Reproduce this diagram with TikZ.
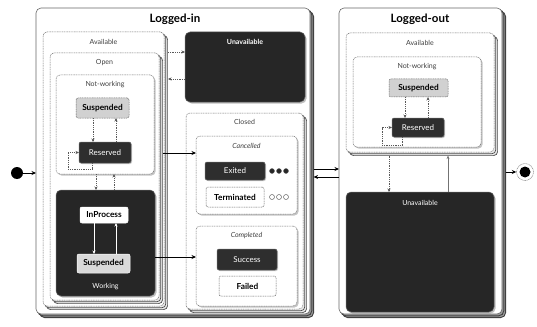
\documentclass[tikz,border=0pt]{standalone}
\usepackage{fontspec}
\setmainfont{Lato}
\usetikzlibrary{shadows,arrows.meta}
\begin{document}
\begin{tikzpicture}[x=1pt,y=-1pt,
  base/.style={anchor=north west, inner sep=0pt, outer sep=0pt},
  box/.style={base, draw=black!55, dash pattern=on 1pt off 0.7pt, line width=0.5pt, rounded corners=4pt, fill=white},
  stacked/.style={double copy shadow={shadow xshift=1.8pt, shadow yshift=-1.8pt, draw=black!70, fill=black!8, solid, line width=0.7pt}},
  outer/.style={base, draw=black!60, line width=0.6pt, rounded corners=5pt, fill=white,
    double copy shadow={shadow xshift=1.8pt, shadow yshift=-1.8pt, draw=black!75, fill=black!40, line width=0.9pt}},
  darkbox/.style={base, draw=black!60, fill=black!85, rounded corners=5pt, line width=0.5pt,
    drop shadow={opacity=0.5, shadow xshift=1.5pt, shadow yshift=-1.5pt}},
  statedark/.style={base, draw=black!60, fill=black!82, rounded corners=2pt, line width=0.5pt,
    text=white, font=\fontsize{8}{9}\selectfont,
    drop shadow={opacity=0.4, shadow xshift=1pt, shadow yshift=-1pt}},
  statelight/.style={base, draw=black!60, dash pattern=on 1pt off 0.7pt, fill=black!18, rounded corners=2pt, line width=0.5pt,
    font=\bfseries\fontsize{8.3}{9}\selectfont},
  statewhite/.style={base, draw=black!60, dash pattern=on 1pt off 0.7pt, fill=white, rounded corners=2pt, line width=0.5pt,
    font=\bfseries\fontsize{8.3}{9}\selectfont},
  title/.style={font=\bfseries\fontsize{11.5}{13}\selectfont},
  lbl/.style={font=\fontsize{7}{8}\selectfont, text=black!75},
  lblw/.style={font=\fontsize{7}{8}\selectfont, text=white},
  dasharrow/.style={draw=black!65, dash pattern=on 1pt off 0.8pt, line width=0.5pt, -{Stealth[length=3.5pt,width=3pt]}},
  whitearrow/.style={draw=white, line width=0.6pt, -{Stealth[length=3.5pt,width=3pt]}},
  solidarrow/.style={draw=black, line width=0.9pt, -{Stealth[length=4.5pt,width=4pt]}},
  grayarrow/.style={draw=black!55, line width=0.6pt, -{Stealth[length=3.5pt,width=3pt]}},
]
\useasboundingbox (0,0) rectangle (537,326);

% ---------- Logged-in ----------
\node[outer, minimum width=274pt, minimum height=306pt] (li) at (36,8) {};
\node[title] (tli) at (175,19) {Logged-in};

\node[box, stacked, minimum width=121pt, minimum height=274pt] (availA) at (43,32) {};
\node[lbl] (lavailA) at ([yshift=-10pt]availA.north) {Available};
\node[box, stacked, minimum width=109pt, minimum height=247pt] (openA) at (50,53) {};
\node[lbl] (lopenA) at ([yshift=-10pt]openA.north) {Open};
\node[box, minimum width=98pt, minimum height=99pt,
  drop shadow={opacity=0.45, shadow xshift=1.5pt, shadow yshift=-1.5pt}] (nwA) at (56,75) {};
\node[lbl] (lnwA) at ([yshift=-10pt]nwA.north) {Not-working};

\node[statelight, minimum width=53pt, minimum height=20pt] (suspA) at (76,98) {Suspended};
\node[statedark, minimum width=52pt, minimum height=21pt] (resA) at (79,142) {Reserved};

\node[darkbox, minimum width=99pt, minimum height=106pt] (work) at (56,190) {};
\node[lblw] (lwork) at ([yshift=9pt]work.south) {Working};
\node[statewhite, solid, draw=white, minimum width=48pt, minimum height=16pt] (inproc) at (80,207) {InProcess};
\node[statelight, solid, draw=white, fill=black!15, minimum width=53pt, minimum height=19pt] (suspW) at (77,254) {Suspended};

\node[darkbox, minimum width=120pt, minimum height=70pt] (unavA) at (185,32) {};
\node[lblw, font=\bfseries\fontsize{7}{8}\selectfont] (lunavA) at ([yshift=-10pt]unavA.north) {Unavailable};

\node[box, stacked, minimum width=117pt, minimum height=196pt] (closed) at (186,113) {};
\node[lbl] (lclosed) at ([yshift=-9pt]closed.north) {Closed};
\node[box, minimum width=101pt, minimum height=78pt,
  drop shadow={opacity=0.45, shadow xshift=1.5pt, shadow yshift=-1.5pt}] (canc) at (196,136) {};
\node[lbl, font=\itshape\fontsize{7}{8}\selectfont] (lcanc) at ([yshift=-10pt]canc.north) {Cancelled};
\node[statedark, minimum width=60pt, minimum height=18pt] (exited) at (205,162) {Exited};
\node[statewhite, minimum width=58pt, minimum height=20pt] (term) at (206,187) {Terminated};
\foreach \i/\xx in {1/272,2/279,3/286} {
  \node[circle, fill=black!85, draw=black!60, minimum size=5pt, inner sep=0pt] (fd\i) at (\xx,171) {};
  \node[circle, fill=white, draw=black!60, line width=0.5pt, minimum size=5pt, inner sep=0pt] (od\i) at (\xx,197) {};
}

\node[box, minimum width=101pt, minimum height=80pt,
  drop shadow={opacity=0.45, shadow xshift=1.5pt, shadow yshift=-1.5pt}] (comp) at (196,226) {};
\node[lbl, font=\itshape\fontsize{7}{8}\selectfont] (lcomp) at ([yshift=-10pt]comp.north) {Completed};
\node[statedark, minimum width=60pt, minimum height=21pt] (succ) at (217,249) {Success};
\node[statewhite, minimum width=57pt, minimum height=20pt] (fail) at (219,276) {Failed};

% ---------- Logged-out ----------
\node[outer, minimum width=163pt, minimum height=306pt] (lo) at (339,8) {};
\node[title] (tlo) at (420,19) {Logged-out};
\node[box, stacked, minimum width=148pt, minimum height=119pt] (availB) at (346,33) {};
\node[lbl] (lavailB) at ([yshift=-10pt]availB.north) {Available};
\node[box, minimum width=128pt, minimum height=90pt,
  drop shadow={opacity=0.45, shadow xshift=1.5pt, shadow yshift=-1.5pt}] (nwB) at (353,57) {};
\node[lbl] (lnwB) at ([yshift=-10pt]nwB.north) {Not-working};
\node[statelight, minimum width=59pt, minimum height=18pt] (suspB) at (389,79) {Suspended};
\node[statedark, minimum width=52pt, minimum height=19pt] (resB) at (392,118) {Reserved};
\node[darkbox, minimum width=148pt, minimum height=120pt] (unavB) at (346,192) {};
\node[lblw] (lunavB) at ([yshift=-11pt]unavB.north) {Unavailable};

% ---------- initial / final ----------
\node[circle, fill=black, minimum size=12pt, inner sep=0pt] (init) at (17,173) {};
\node[circle, draw=black!55, dash pattern=on 1pt off 0.6pt, fill=white, minimum size=17pt, inner sep=0pt] (final) at (525,172) {};
\node[circle, fill=black, minimum size=11pt, inner sep=0pt] (finaldot) at (525,172) {};

% ---------- connectors ----------
\draw[solidarrow] (init) -- (init -| li.west);
\draw[solidarrow] ([xshift=3.6pt,yshift=-164pt]lo.north east) -- (final);

\draw[dasharrow] ([xshift=17pt]suspA.south west) -- ([xshift=14pt]resA.north west);
\draw[dasharrow] ([xshift=37pt]resA.north west) -- ([xshift=40pt]suspA.south west);
\draw[dasharrow] ([xshift=13pt]resA.south west) -- ++(0,6) -- ++(-24,0) |- (resA.west);
\draw[dasharrow] ([xshift=40pt]nwA.south west) -- ([xshift=40pt]work.north west);
\draw[dasharrow] ([xshift=58pt]work.north west) -- ([xshift=58pt]nwA.south west);
\draw[whitearrow] ([xshift=14pt]inproc.south west) -- ([xshift=17pt]suspW.north west);
\draw[whitearrow] ([xshift=39pt]suspW.north west) -- ([xshift=36pt]inproc.south west);

\draw[dasharrow] ([xshift=4pt,yshift=-20pt]availA.north east) -- ([yshift=-20pt]unavA.north west);
\draw[dasharrow] ([yshift=-47pt]unavA.north west) -- ([xshift=4pt,yshift=-47pt]availA.north east);
\draw[solidarrow] ([xshift=4pt,yshift=-100pt]openA.north east) -- ([yshift=-17pt]canc.north west);
\draw[solidarrow] ([yshift=-67pt]work.north east) -- ([yshift=-31pt]comp.north west);

\draw[solidarrow] ([xshift=3.6pt,yshift=-161pt]li.north east) -- ([yshift=-161pt]lo.north west);
\draw[solidarrow] ([yshift=-169pt]lo.north west) -- ([xshift=3.6pt,yshift=-169pt]li.north east);

\draw[dasharrow] ([xshift=16pt]suspB.south west) -- ([xshift=13pt]resB.north west);
\draw[dasharrow] ([xshift=36pt]resB.north west) -- ([xshift=39pt]suspB.south west);
\draw[dasharrow] ([xshift=10pt]resB.south west) -- ++(0,8) -- ++(-20,0) |- (resB.west);
\draw[dasharrow] ([xshift=43pt,yshift=-3.6pt]availB.south west) -- ([xshift=43pt]unavB.north west);
\draw[grayarrow] ([xshift=102pt]unavB.north west) -- ([xshift=102pt,yshift=-3.6pt]availB.south west);
\end{tikzpicture}
\end{document}
